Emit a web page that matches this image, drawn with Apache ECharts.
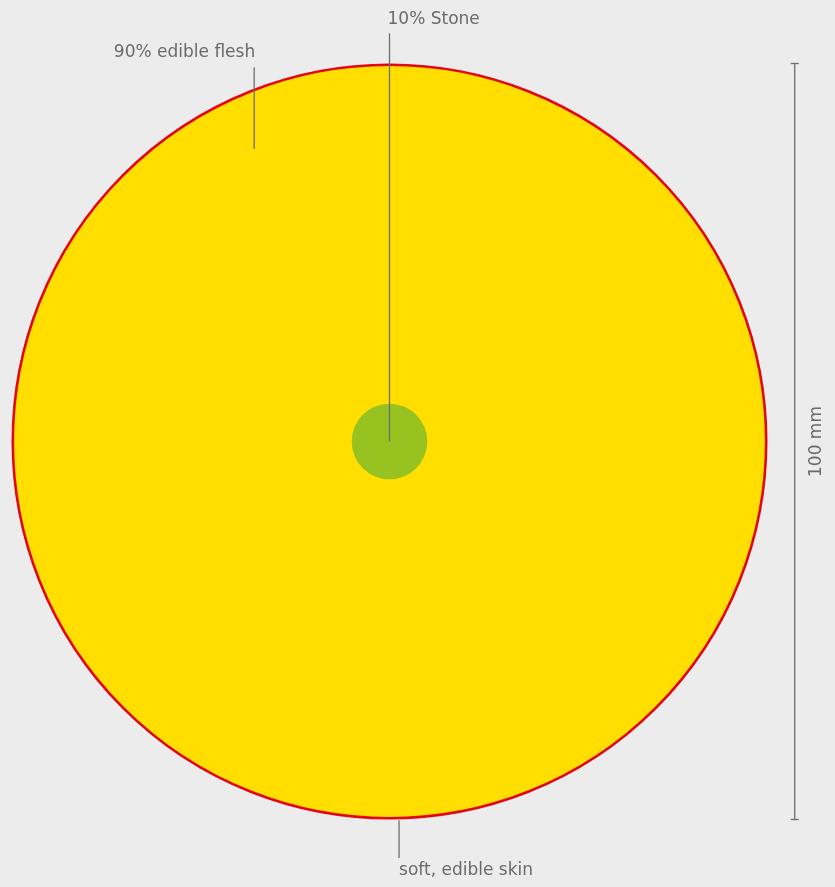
<!DOCTYPE html>
<html>
<head>
<meta charset="utf-8">
<script src="https://cdn.jsdelivr.net/npm/echarts@6/dist/echarts.min.js"></script>
<style>
  html, body {margin: 0; padding: 0; background: #ececec;}
  #chart {width: 835px; height: 887px;}
</style>
</head>
<body>
<div id="chart"></div>
<script>
// fruit cross-section, sizes in mm
const partNames = ['soft, edible skin', '90% edible flesh', '10% Stone']
const fruitDiameter = 100
const stoneDiameter = 10
const dimensionLabel = '100 mm'

const palette = {bg: '#ececec', flesh: '#ffde00', skin: '#e30613', stone: '#97c21f', ink: '#6a6a6a', line: '#6e6e6e'}
const pxPerMm = 7.56
const W = 835
const H = 887
const cx = 389.5
const cy = 441.5

// leader line anchors (mm): x, y from, y to, text side
const callouts = [
  {name: partNames[0], x: 1.26, y1: -50.1, y2: -55.1, align: 'left', dx: 0, dy: 13},
  {name: partNames[1], x: -17.9, y1: 38.7, y2: 49.5, align: 'right', dx: 1, dy: -15},
  {name: partNames[2], x: 0, y1: 0, y2: 54.0, align: 'left', dx: -2, dy: -14}
]

const font = '"DejaVu Sans", sans-serif'

const option = {
  animation: false,
  backgroundColor: palette.bg,
  grid: {left: 0, right: 0, top: 0, bottom: 0},
  xAxis: {type: 'value', show: false, min: -cx / pxPerMm, max: (W - cx) / pxPerMm},
  yAxis: {type: 'value', show: false, min: -(H - cy) / pxPerMm, max: cy / pxPerMm},
  series: [
    {
      type: 'custom',
      silent: true,
      data: [[0, 0, fruitDiameter, 0], [0, 0, stoneDiameter, 1]],
      renderItem: function (params, api) {
        const c = api.coord([api.value(0), api.value(1)])
        const r = api.size([api.value(2), 0])[0] / 2
        const isFruit = api.value(3) === 0
        return {
          type: 'circle',
          shape: {cx: c[0], cy: c[1], r: isFruit ? r - 1.3 : r},
          style: isFruit
            ? {fill: palette.flesh, stroke: palette.skin, lineWidth: 2.6}
            : {fill: palette.stone}
        }
      }
    },
    {
      type: 'custom',
      silent: true,
      data: callouts.map(function (d, i) { return [d.x, d.y1, d.y2, i] }),
      renderItem: function (params, api) {
        const d = callouts[api.value(3)]
        const a = api.coord([api.value(0), api.value(1)])
        const b = api.coord([api.value(0), api.value(2)])
        return {
          type: 'group',
          children: [
            {type: 'line', shape: {x1: a[0], y1: a[1], x2: b[0], y2: b[1]}, style: {stroke: palette.line, lineWidth: 1.3}},
            {type: 'text', style: {
              x: b[0] + d.dx, y: b[1] + d.dy, text: d.name, fill: palette.ink,
              font: '17px ' + font, align: d.align, verticalAlign: 'middle'
            }}
          ]
        }
      }
    },
    {
      type: 'custom',
      silent: true,
      data: [[53.6, fruitDiameter / 2, -fruitDiameter / 2]],
      renderItem: function (params, api) {
        const a = api.coord([api.value(0), api.value(1)])
        const b = api.coord([api.value(0), api.value(2)])
        const ls = {stroke: palette.line, lineWidth: 1.3}
        return {
          type: 'group',
          children: [
            {type: 'line', shape: {x1: a[0], y1: a[1], x2: b[0], y2: b[1]}, style: ls},
            {type: 'line', shape: {x1: a[0] - 4, y1: a[1], x2: a[0] + 4, y2: a[1]}, style: ls},
            {type: 'line', shape: {x1: b[0] - 4, y1: b[1], x2: b[0] + 4, y2: b[1]}, style: ls},
            {type: 'text', x: a[0] + 22, y: (a[1] + b[1]) / 2, rotation: Math.PI / 2,
              style: {x: 0, y: 0, text: dimensionLabel, fill: palette.ink, font: '17px ' + font, align: 'center', verticalAlign: 'middle'}}
          ]
        }
      }
    }
  ]
}
echarts.init(document.getElementById('chart')).setOption(option)
</script>
</body>
</html>
